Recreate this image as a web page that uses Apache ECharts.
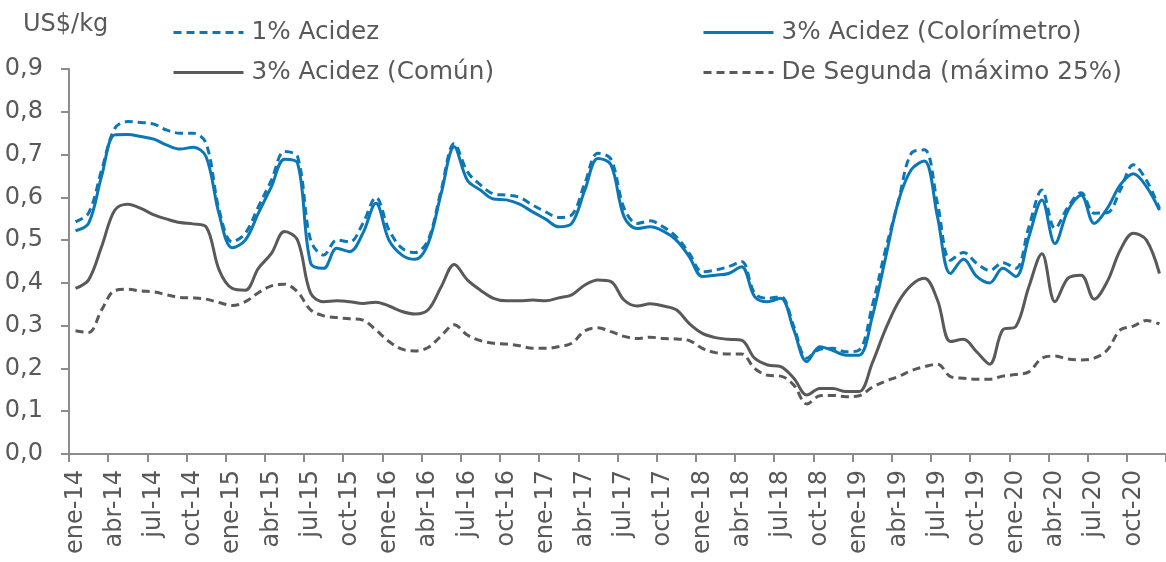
<!DOCTYPE html>
<html>
<head>
<meta charset="utf-8">
<script src="https://cdn.jsdelivr.net/npm/echarts@6/dist/echarts.min.js"></script>
<style>
  html, body { margin: 0; padding: 0; background: #fff; }
  #main { width: 1166px; height: 562px; }
</style>
</head>
<body>
<div id="main"></div>
<script>
// month names and years -> monthly categories ene-14 .. dic-20
const monthNames = ["ene", "feb", "mar", "abr", "may", "jun", "jul", "ago", "sep", "oct", "nov", "dic"];
const years = ["14", "15", "16", "17", "18", "19", "20"];

const acidez1 = [
  0.543, 0.563, 0.664, 0.761, 0.777, 0.775, 0.771, 0.757, 0.75, 0.75, 0.726, 0.57,
  0.496, 0.516, 0.578, 0.64, 0.707, 0.695, 0.50, 0.465, 0.50, 0.496, 0.539, 0.60,
  0.524, 0.481, 0.471, 0.50, 0.617, 0.726, 0.66, 0.629, 0.608, 0.605, 0.60, 0.582,
  0.566, 0.553, 0.559, 0.633, 0.703, 0.689, 0.575, 0.539, 0.545, 0.531, 0.508, 0.469,
  0.426, 0.43, 0.438, 0.45, 0.376, 0.364, 0.368, 0.298, 0.224, 0.245, 0.247, 0.239,
  0.243, 0.345, 0.475, 0.59, 0.703, 0.711, 0.586, 0.453, 0.471, 0.446, 0.429, 0.447,
  0.434, 0.531, 0.617, 0.527, 0.578, 0.611, 0.563, 0.564, 0.617, 0.676, 0.64, 0.574
];
const acidez3Color = [
  0.522, 0.539, 0.65, 0.746, 0.747, 0.742, 0.736, 0.722, 0.713, 0.717, 0.695, 0.56,
  0.482, 0.50, 0.563, 0.625, 0.689, 0.68, 0.446, 0.434, 0.481, 0.473, 0.516, 0.586,
  0.50, 0.465, 0.455, 0.492, 0.609, 0.718, 0.64, 0.617, 0.596, 0.594, 0.584, 0.566,
  0.549, 0.531, 0.539, 0.617, 0.691, 0.676, 0.555, 0.527, 0.531, 0.521, 0.50, 0.461,
  0.415, 0.418, 0.422, 0.438, 0.368, 0.356, 0.364, 0.29, 0.216, 0.251, 0.242, 0.231,
  0.231, 0.32, 0.455, 0.59, 0.665, 0.685, 0.555, 0.422, 0.455, 0.415, 0.40, 0.434,
  0.415, 0.508, 0.594, 0.492, 0.57, 0.605, 0.539, 0.574, 0.629, 0.655, 0.625, 0.57
];
const acidez3Comun = [
  0.387, 0.407, 0.485, 0.57, 0.584, 0.574, 0.559, 0.549, 0.541, 0.538, 0.531, 0.43,
  0.387, 0.383, 0.434, 0.469, 0.52, 0.50, 0.376, 0.356, 0.358, 0.356, 0.352, 0.355,
  0.346, 0.333, 0.327, 0.337, 0.391, 0.443, 0.407, 0.383, 0.364, 0.358, 0.358, 0.36,
  0.358, 0.365, 0.372, 0.395, 0.407, 0.403, 0.36, 0.346, 0.351, 0.346, 0.337, 0.305,
  0.282, 0.272, 0.268, 0.266, 0.224, 0.208, 0.204, 0.177, 0.138, 0.153, 0.153, 0.146,
  0.146, 0.212, 0.29, 0.355, 0.395, 0.411, 0.36, 0.263, 0.268, 0.239, 0.21, 0.29,
  0.298, 0.391, 0.468, 0.356, 0.411, 0.418, 0.362, 0.403, 0.477, 0.516, 0.50, 0.422
];
const deSegunda = [
  0.288, 0.284, 0.337, 0.382, 0.385, 0.381, 0.379, 0.372, 0.366, 0.365, 0.362, 0.354,
  0.347, 0.356, 0.377, 0.393, 0.397, 0.379, 0.337, 0.323, 0.319, 0.316, 0.313, 0.29,
  0.263, 0.245, 0.241, 0.249, 0.276, 0.302, 0.278, 0.265, 0.259, 0.257, 0.253, 0.247,
  0.247, 0.251, 0.259, 0.288, 0.295, 0.286, 0.275, 0.27, 0.273, 0.27, 0.269, 0.265,
  0.247, 0.237, 0.234, 0.234, 0.2, 0.184, 0.182, 0.161, 0.117, 0.136, 0.137, 0.134,
  0.136, 0.156, 0.17, 0.181, 0.195, 0.204, 0.21, 0.181, 0.177, 0.175, 0.175, 0.182,
  0.186, 0.192, 0.224, 0.229, 0.222, 0.22, 0.224, 0.243, 0.29, 0.299, 0.312, 0.304
];

const months = [];
years.forEach(y => monthNames.forEach(m => months.push(m + "-" + y)));

const BLUE = "#0B77B6";
const GRAY = "#595959";
const AXIS = "#8C8C8C";
const FONT = "DejaVu Sans";

const lineSeries = (name, data, color, dashed) => ({
  name: name,
  type: "line",
  data: data,
  smooth: 0.35,
  symbol: "none",
  lineStyle: { color: color, width: 3, type: dashed ? [8, 5] : "solid" },
  itemStyle: { color: color }
});

const legendBase = {
  orient: "vertical",
  top: 15,
  itemWidth: 70,
  itemHeight: 14,
  itemGap: 15,
  itemStyle: { opacity: 0, borderWidth: 0 },
  lineStyle: { width: 3, type: "inherit" },
  textStyle: { color: GRAY, fontFamily: FONT, fontSize: 24.7, lineHeight: 24, padding: [0, 0, 0, 3] }
};

const option = {
  animation: false,
  textStyle: { fontFamily: FONT },
  title: {
    text: "US$/kg",
    left: 18,
    top: 8,
    textStyle: { color: GRAY, fontFamily: FONT, fontSize: 24, fontWeight: "normal" }
  },
  legend: [
    Object.assign({}, legendBase, { left: 167, data: ["1% Acidez", "3% Acidez (Común)"] }),
    Object.assign({}, legendBase, { left: 697, data: ["3% Acidez (Colorímetro)", "De Segunda (máximo 25%)"] })
  ],
  grid: { left: 69, right: -3, top: 69, bottom: 108, containLabel: false },
  xAxis: {
    type: "category",
    data: months,
    boundaryGap: true,
    axisLine: { lineStyle: { color: AXIS, width: 2 } },
    axisTick: { show: true, interval: 2, length: 8, lineStyle: { color: AXIS, width: 2 } },
    axisLabel: {
      interval: 2,
      rotate: 90,
      margin: 16,
      color: GRAY,
      fontFamily: FONT,
      fontSize: 24
    },
    splitLine: { show: false }
  },
  yAxis: {
    type: "value",
    min: 0,
    max: 0.9,
    interval: 0.1,
    axisLine: { show: true, lineStyle: { color: AXIS, width: 2 } },
    axisTick: { show: true, length: 8, lineStyle: { color: AXIS, width: 2 } },
    axisLabel: {
      margin: 26,
      color: GRAY,
      fontFamily: FONT,
      fontSize: 24,
      formatter: v => v.toFixed(1).replace(".", ",")
    },
    splitLine: { show: false }
  },
  series: [
    lineSeries("3% Acidez (Común)", acidez3Comun, GRAY, false),
    lineSeries("De Segunda (máximo 25%)", deSegunda, GRAY, true),
    lineSeries("3% Acidez (Colorímetro)", acidez3Color, BLUE, false),
    lineSeries("1% Acidez", acidez1, BLUE, true)
  ]
};

const myChart = echarts.init(document.getElementById("main"), null, { renderer: "canvas" });
myChart.setOption(option);
</script>
</body>
</html>
